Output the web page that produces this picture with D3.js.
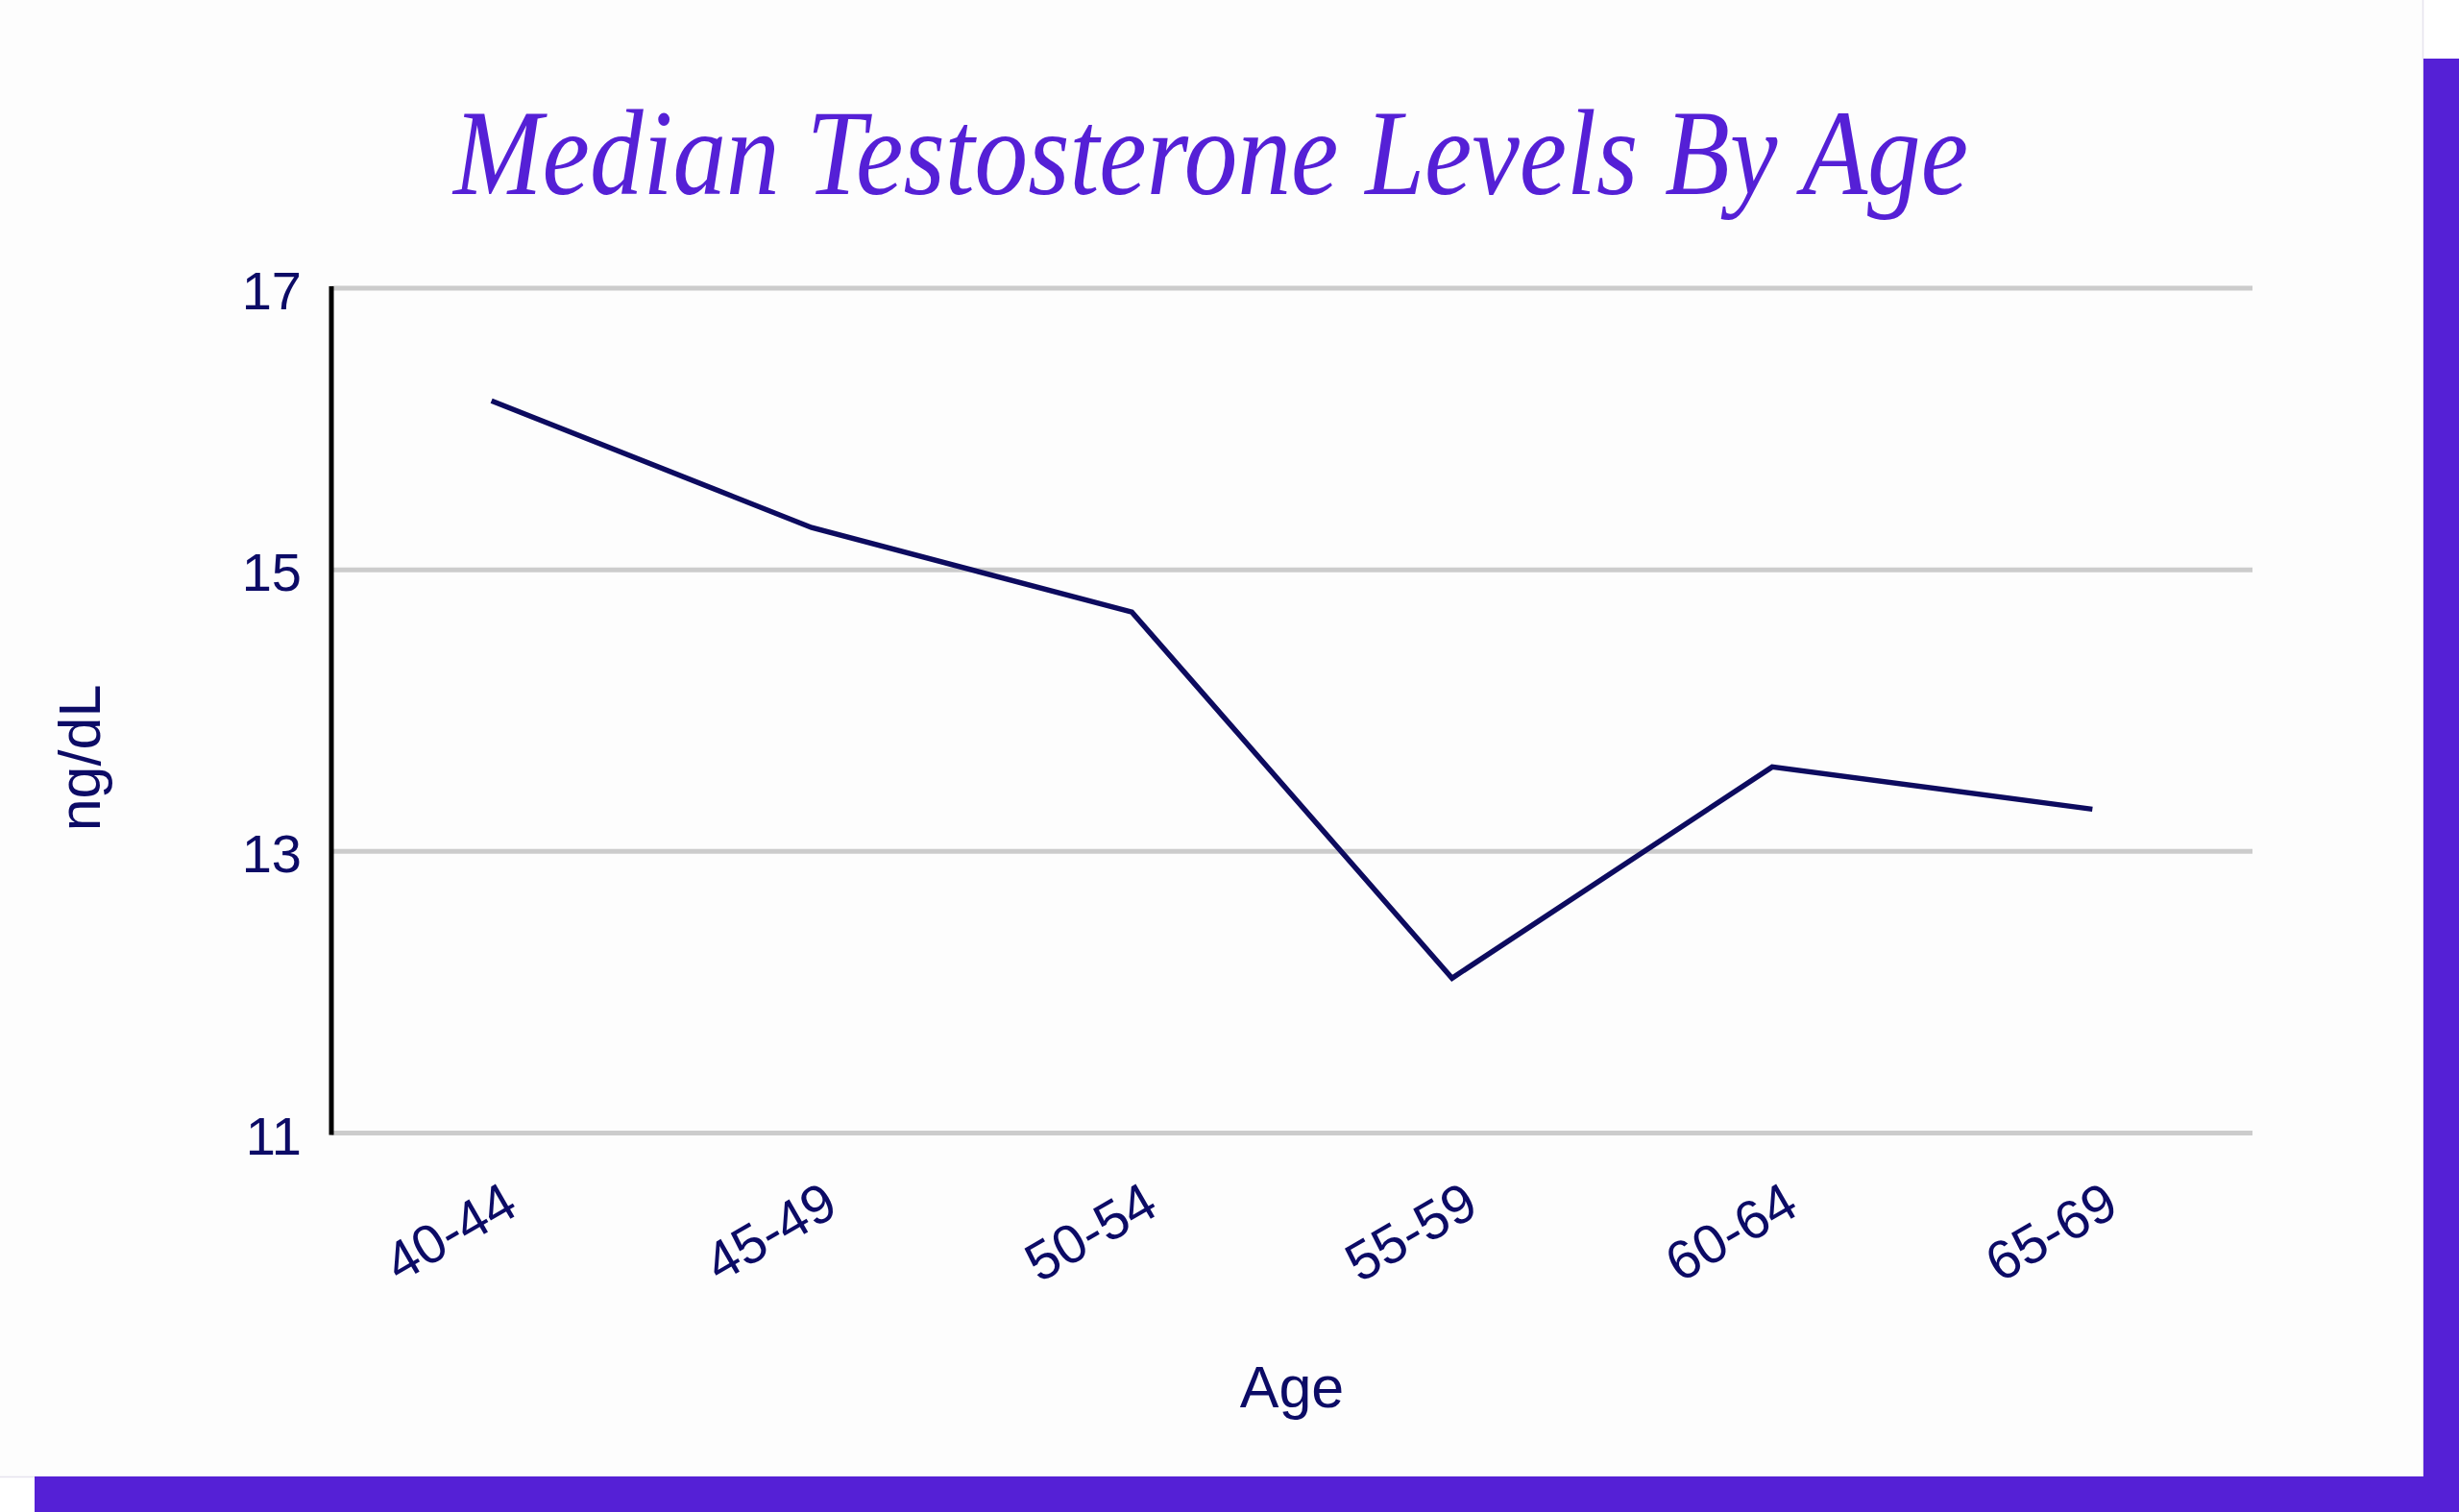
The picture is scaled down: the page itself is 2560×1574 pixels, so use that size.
<!DOCTYPE html>
<html>
<head>
<meta charset="utf-8">
<script src="https://cdn.jsdelivr.net/npm/d3@7"></script>
<style>
  html, body { margin: 0; padding: 0; background: #ffffff; }
  svg { display: block; }
</style>
</head>
<body>
<svg id="chart" width="2560" height="1574"></svg>
<script>
const titleText = "Median Testosterone Levels By Age";
const categories = ["40-44", "45-49", "50-54", "55-59", "60-64", "65-69"];
const values = [16.2, 15.3, 14.7, 12.1, 13.6, 13.3];
const yTicks = [11, 13, 15, 17];
const yLabel = "ng/dL";
const xLabel = "Age";

const purple = "#5520d6";
const navy = "#0c0b66";

const svg = d3.select("#chart");

// card background and frame
svg.append("rect").attr("x", 0).attr("y", 0).attr("width", 2560).attr("height", 1574).attr("fill", "#ffffff");
svg.append("rect").attr("x", 0).attr("y", 0).attr("width", 2522).attr("height", 1537).attr("fill", "#fdfdfd");
svg.append("line").attr("x1", 2522.5).attr("x2", 2522.5).attr("y1", 0).attr("y2", 1537)
  .attr("stroke", "#e6e4ee").attr("stroke-width", 1.5);
svg.append("line").attr("x1", 0).attr("x2", 2522).attr("y1", 1537.5).attr("y2", 1537.5)
  .attr("stroke", "#e6e4ee").attr("stroke-width", 1.5);
svg.append("rect").attr("x", 2523).attr("y", 61).attr("width", 37).attr("height", 1513).attr("fill", purple);
svg.append("rect").attr("x", 36).attr("y", 1537).attr("width", 2524).attr("height", 37).attr("fill", purple);

// title
svg.append("text")
  .attr("x", 472).attr("y", 202)
  .attr("textLength", 1577).attr("lengthAdjust", "spacingAndGlyphs")
  .attr("font-family", "'Liberation Serif', 'DejaVu Serif', serif")
  .attr("font-style", "italic")
  .attr("font-size", 126)
  .attr("fill", purple)
  .text(titleText);

// scales
const plot = { left: 345, right: 2345, top: 300, bottom: 1179.5 };
const x = d3.scaleBand().domain(categories).range([plot.left, plot.right]).padding(0);
const y = d3.scaleLinear().domain([11, 17]).range([plot.bottom, plot.top]);

// gridlines
svg.append("g").selectAll("line").data(yTicks).join("line")
  .attr("x1", plot.left).attr("x2", plot.right)
  .attr("y1", d => y(d)).attr("y2", d => y(d))
  .attr("stroke", "#cccccc").attr("stroke-width", 5);

// y axis line
svg.append("line")
  .attr("x1", plot.left).attr("x2", plot.left)
  .attr("y1", y(17) - 2).attr("y2", y(11) + 2)
  .attr("stroke", "#000000").attr("stroke-width", 5);

// y tick labels
svg.append("g").selectAll("text").data(yTicks).join("text")
  .attr("x", 314).attr("y", d => y(d) + 22)
  .attr("text-anchor", "end")
  .attr("font-family", "'Liberation Sans', Arial, sans-serif")
  .attr("font-size", 56)
  .attr("fill", navy)
  .text(d => d);

// x tick labels (rotated)
svg.append("g").selectAll("text").data(categories).join("text")
  .attr("transform", d => `translate(${x(d) + x.bandwidth() / 2 + 30},1263) rotate(-30)`)
  .attr("text-anchor", "end")
  .attr("font-family", "'Liberation Sans', Arial, sans-serif")
  .attr("font-size", 57)
  .attr("fill", navy)
  .text(d => d);

// line
const line = d3.line()
  .x((d, i) => x(categories[i]) + x.bandwidth() / 2)
  .y(d => y(d));
svg.append("path")
  .datum(values)
  .attr("d", line)
  .attr("fill", "none")
  .attr("stroke", "#0d0b5f")
  .attr("stroke-width", 5.5)
  .attr("stroke-linejoin", "miter");

// axis titles
svg.append("text")
  .attr("x", (plot.left + plot.right) / 2).attr("y", 1465)
  .attr("text-anchor", "middle")
  .attr("font-family", "'Liberation Sans', Arial, sans-serif")
  .attr("font-size", 61)
  .attr("fill", navy)
  .text(xLabel);

svg.append("text")
  .attr("transform", "translate(104,789) rotate(-90)")
  .attr("text-anchor", "middle")
  .attr("font-family", "'Liberation Sans', Arial, sans-serif")
  .attr("font-size", 61)
  .attr("fill", navy)
  .text(yLabel);
</script>
</body>
</html>
